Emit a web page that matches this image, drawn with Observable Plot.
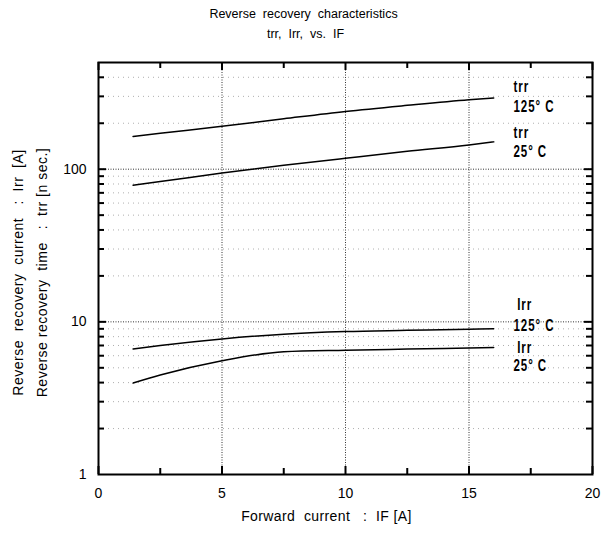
<!DOCTYPE html>
<html>
<head>
<meta charset="utf-8">
<script src="https://cdn.jsdelivr.net/npm/d3@7"></script>
<script src="https://cdn.jsdelivr.net/npm/@observablehq/plot@0.6"></script>
<style>
  html, body { margin: 0; padding: 0; background: #fff; }
  #chart { width: 606px; height: 536px; }
  .curvelbl text { font-family: 'Liberation Sans', Arial, sans-serif; letter-spacing: 1.3px; }
  .ylab text { letter-spacing: 0.5px; }
  .xlab text { letter-spacing: 0.4px; }
</style>
</head>
<body>
<div id="chart"></div>
<script>
// ---- data ----
const forwardCurrent = [1.4, 2.5, 5, 7.5, 10, 12.5, 15, 16];
const trr125 = [164, 172, 191, 214, 239, 262, 285, 293];
const trr25  = [78.6, 83, 94.5, 106, 118, 131, 144, 151];
const irr125 = [6.64, 7.0, 7.73, 8.3, 8.63, 8.8, 8.96, 9.0];
const irr25  = [3.97, 4.48, 5.56, 6.37, 6.52, 6.63, 6.75, 6.8];

const xTickLabels = [0, 5, 10, 15, 20];
const yTickLabels = [1, 10, 100];
const xMinorTicks = [2.5, 7.5, 12.5, 17.5];
const yMinorTicks = [2,3,4,5,6,7,8,9,20,30,40,50,60,70,80,90,200,300,400];
const xGrid = [5, 10, 15];
const yGrid = [10, 100];

const curveLabels = [
  {text: "trr",    x: 16.8, y: 345},
  {text: "125° C", x: 16.8, y: 256},
  {text: "trr",    x: 16.8, y: 172},
  {text: "25° C",  x: 16.8, y: 129},
  {text: "Irr",    x: 16.95, y: 13.0},
  {text: "125° C", x: 16.8, y: 9.35},
  {text: "Irr",    x: 16.95, y: 6.75},
  {text: "25° C",  x: 16.8, y: 5.15}
];

const title1 = "Reverse  recovery  characteristics";
const title2 = "trr,  Irr,  vs.  IF";
const xLabel = "Forward  current   :  IF [A]";
const yLabel = "Reverse  recovery  current   :  Irr  [A]\nReverse recovery  time   :  trr [n sec.]";

// ---- tidy table ----
const series = [
  {name: "trr125", values: trr125},
  {name: "trr25", values: trr25},
  {name: "irr125", values: irr125},
  {name: "irr25", values: irr25}
];
const rows = series.flatMap(s => s.values.map((v, i) => ({series: s.name, x: forwardCurrent[i], y: v})));

const W = 606, H = 536, mL = 98, mR = 14, mT = 62, mB = 62;
const plotH = H - mT - mB, plotW = W - mL - mR;

const chart = Plot.plot({
  width: W, height: H,
  marginLeft: mL, marginRight: mR, marginTop: mT, marginBottom: mB,
  style: {fontFamily: "'Liberation Sans', Arial, sans-serif", fontSize: "13px", background: "#fff", color: "#000"},
  x: {domain: [0, 20], axis: null},
  y: {type: "log", domain: [1, 500], axis: null},
  marks: [
    // faint minor grid (dotted)
    Plot.ruleY(yMinorTicks, {y: d => d, stroke: "#999", strokeDasharray: "1,4", strokeWidth: 0.8}),
    // main dotted grid
    Plot.ruleX(xGrid, {x: d => d, stroke: "#333", strokeDasharray: "1,1.5", strokeWidth: 1}),
    Plot.ruleY(yGrid, {y: d => d, stroke: "#333", strokeDasharray: "1,1.5", strokeWidth: 1}),
    // curves
    Plot.line(rows, {x: "x", y: "y", z: "series", curve: "monotone-x", stroke: "#000", strokeWidth: 1.5}),
    // frame
    Plot.frame({stroke: "#000", strokeWidth: 2}),
    // inward ticks: x major & minor, bottom and top
    Plot.tickX(xTickLabels, {x: d => d, insetTop: plotH - 8, stroke: "#000", strokeWidth: 2}),
    Plot.tickX(xTickLabels, {x: d => d, insetBottom: plotH - 8, stroke: "#000", strokeWidth: 2}),
    Plot.tickX(xMinorTicks, {x: d => d, insetTop: plotH - 6, stroke: "#000", strokeWidth: 2}),
    Plot.tickX(xMinorTicks, {x: d => d, insetBottom: plotH - 6, stroke: "#000", strokeWidth: 2}),
    // inward ticks: y minor, left and right
    Plot.tickY(yMinorTicks, {y: d => d, insetRight: plotW - 6, stroke: "#000", strokeWidth: 2}),
    Plot.tickY(yMinorTicks, {y: d => d, insetLeft: plotW - 6, stroke: "#000", strokeWidth: 2}),
    Plot.tickY(yGrid, {y: d => d, insetRight: plotW - 8, stroke: "#000", strokeWidth: 2}),
    Plot.tickY(yGrid, {y: d => d, insetLeft: plotW - 8, stroke: "#000", strokeWidth: 2}),
    // tick labels
    Plot.axisX(xTickLabels, {anchor: "bottom", tickSize: 0, tickPadding: 14, fontSize: 14, label: null}),
    Plot.axisY(yTickLabels, {anchor: "left", tickSize: 0, tickPadding: 12, fontSize: 14, label: null, tickFormat: d3.format("d")}),
    // curve labels
    Plot.text(curveLabels, {x: "x", y: "y", text: "text", textAnchor: "start", className: "curvelbl",
      fontWeight: "bold", fontSize: 16, fill: "#000", stroke: "#fff", strokeWidth: 2, paintOrder: "stroke"}),
    // titles
    Plot.text([title1], {frameAnchor: "top", dx: -42, dy: -53, fontSize: 12.5, fill: "#000"}),
    Plot.text([title2], {frameAnchor: "top", dx: -40, dy: -33, fontSize: 12.5, fill: "#000"}),
    // axis labels
    Plot.text([xLabel], {frameAnchor: "bottom", dx: -19, dy: 46, fontSize: 14, fill: "#000", className: "xlab"}),
    Plot.text([yLabel], {frameAnchor: "left", textAnchor: "middle", dx: -71, dy: 4, rotate: -90, fontSize: 14, lineHeight: 1.72, fill: "#000", className: "ylab"})
  ]
});
document.getElementById("chart").appendChild(chart);

// condense the bold curve labels horizontally (narrow lettering as in the reference)
d3.select(chart).selectAll(".curvelbl text").each(function() {
  const t = this.getAttribute("transform");
  if (t && /translate/.test(t)) this.setAttribute("transform", t + " scale(0.72,1)");
});
</script>
</body>
</html>
